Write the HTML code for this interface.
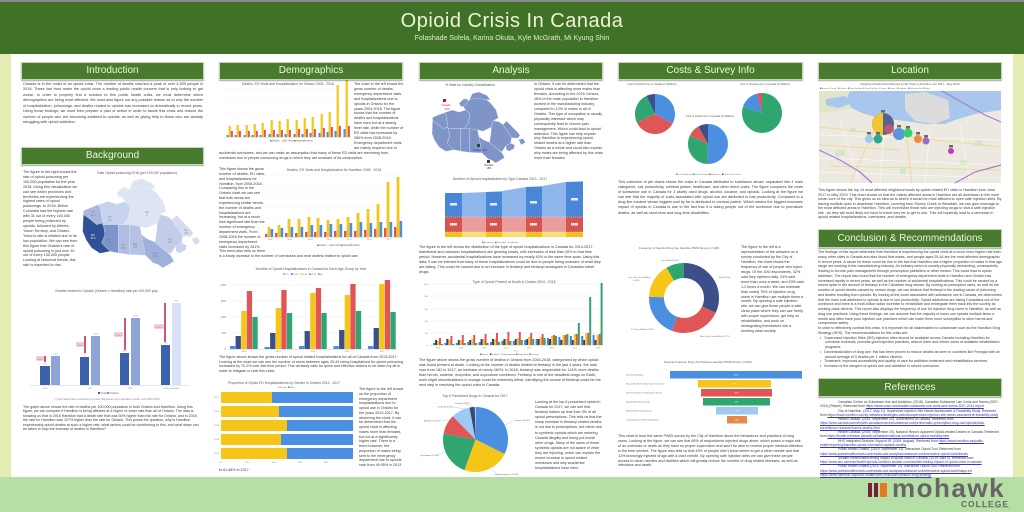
<!DOCTYPE html>
<html><head><meta charset="utf-8">
<style>
*{box-sizing:border-box}
body{margin:0;width:1024px;height:512px;position:relative;overflow:hidden;background:#fff;font-family:"Liberation Sans",sans-serif}
svg{position:absolute;left:0;top:0}
.t{position:absolute;font-size:3.7px;line-height:4.9px;color:#3c3c3c;text-align:left}
.j{text-align:justify}
.fl{float:left}.fr{float:right}
.h{position:absolute;height:18px;background:#487b2d;border:1px solid #c4d6b2;color:#f3f5df;font-size:10px;line-height:16px;text-align:center;box-shadow:0 1px 1px rgba(0,0,0,.35)}
.ct{font-size:3.4px;fill:#5a5a5a;text-anchor:middle}
.a{font-size:2.5px;fill:#808080}
.am{font-size:2.5px;fill:#808080;text-anchor:middle}
.lg{font-size:2.4px;fill:#666}
.ref a{color:#3535c8;text-decoration:underline}
</style></head><body>
<svg width="1024" height="512" viewBox="0 0 1024 512">
<!-- frame -->
<rect x="0" y="0" width="1024" height="512" fill="#fff"/>
<rect x="0" y="54" width="11" height="423" fill="#e4ebb3"/>
<rect x="1013" y="54" width="11" height="423" fill="#e4ebb3"/>
<rect x="0" y="0" width="1024" height="54" fill="#3f7227"/>
<rect x="0" y="0" width="1024" height="2" fill="#8a8a8a"/>
<rect x="0" y="477" width="1024" height="35" fill="#b6dfa6"/>

<!-- ===== COL1: Canada choropleth ===== -->
<text class="ct" x="137" y="174">Rate Opioid poisoning 2018 (per 100,000 population)</text>
<g transform="translate(80,168) scale(0.3333)" stroke="#fff" stroke-width="1.2" stroke-dasharray="2 2">
<polygon fill="#dde4f3" points="135,100 120,80 150,62 165,42 200,50 230,75 250,100 258,130 240,140 232,165 200,180 180,175 130,170 145,150 150,115"/>
<polygon fill="#dde4f3" points="150,60 160,38 185,32 215,45 228,62 205,60 185,55"/>
<polygon fill="#dde4f3" points="110,75 128,58 145,60 135,82 118,88"/>
<polygon fill="#a9b7de" points="10,128 55,110 62,122 68,165 50,170 25,150 10,140"/>
<polygon fill="#2f5197" points="10,140 25,150 50,170 68,165 72,180 75,200 65,225 90,250 60,256 35,240 18,215 8,190"/>
<polygon fill="#c7d2ec" points="55,110 85,100 110,108 135,100 150,115 145,150 130,170 68,170 62,122"/>
<polygon fill="#7f94cb" points="68,170 115,170 115,255 90,250 65,225 75,200 72,180"/>
<polygon fill="#aebde1" points="115,170 148,170 150,260 115,255"/>
<polygon fill="#b5c2e3" points="148,170 180,175 185,200 200,212 196,262 150,260"/>
<polygon fill="#9fb1da" points="185,200 200,212 225,222 240,235 258,250 272,262 282,280 265,290 248,300 235,290 220,285 196,262"/>
<polygon fill="#c3cdea" points="232,165 240,140 262,145 275,155 300,190 308,205 305,225 287,235 272,258 258,250 240,235 225,222 230,190"/>
<polygon fill="#d4dcf0" points="275,155 290,142 312,165 332,185 340,196 332,206 308,205 300,190"/>
<polygon fill="#d4dcf0" points="335,212 352,208 360,222 345,232"/>
<polygon fill="#c9d3ec" points="287,235 305,225 320,232 318,245 300,255 288,250"/>
</g>
<g class="am" style="font-size:2.6px">
<text x="93" y="213" class="am">YT</text><text x="93" y="216" class="am">11.0</text>
<text x="93" y="236" class="am" style="fill:#fff">BC</text><text x="93" y="239" class="am" style="fill:#fff">31.0</text>
<text x="110" y="218" class="am">NT</text><text x="110" y="221" class="am">9.3</text>
<text x="147" y="213" class="am">NU</text><text x="147" y="216" class="am">0</text>
<text x="109" y="240" class="am">AB</text><text x="109" y="243" class="am">17.1</text>
<text x="123" y="246" class="am">SK</text><text x="123" y="249" class="am">10.0</text>
<text x="135" y="245" class="am">MB</text><text x="135" y="248" class="am">9.6</text>
<text x="155" y="254" class="am">ON</text><text x="155" y="257" class="am">10.3</text>
<text x="170" y="240" class="am">QC</text><text x="170" y="243" class="am">5.2</text>
<text x="186" y="231" class="am">NL</text><text x="186" y="234" class="am">2.8</text>
</g>

<!-- ===== COL1: Ontario v Hamilton ===== -->
<text class="ct" x="107" y="292">Deaths related to Opioids (Ontario v Hamilton) rate per 100,000 pop.</text>
<line x1="30" y1="385.5" x2="190" y2="385.5" stroke="#d0d0d0" stroke-width="0.5"/>
<rect x="40" y="366" width="10" height="19" fill="#3c62ae"/>
<rect x="51" y="356" width="9" height="29" fill="#8ea4d7"/>
<rect x="80" y="357" width="9" height="28" fill="#3c62ae"/>
<rect x="91" y="336" width="9" height="49" fill="#8ea4d7"/>
<rect x="120" y="353" width="9" height="32" fill="#3c62ae"/>
<rect x="131" y="318" width="9" height="67" fill="#8ea4d7"/>
<rect x="161" y="345" width="9" height="40" fill="#3c62ae"/>
<rect x="172" y="303" width="9" height="82" fill="#d9e1f2"/>
<g stroke="#b0103a" stroke-width="1.4">
<line x1="45" y1="356" x2="45" y2="362"/><line x1="85" y1="336" x2="85" y2="353"/>
<line x1="125" y1="318" x2="125" y2="350"/><line x1="165" y1="303" x2="165" y2="342"/>
</g>
<g fill="#fff" stroke="#b0103a" stroke-width="0.4">
<rect x="37" y="357" width="6" height="3"/><rect x="77" y="343" width="6" height="3"/>
<rect x="115" y="333" width="7" height="3"/><rect x="155" y="325" width="8" height="3"/>
</g>
<g style="font-size:2px;fill:#b0103a;text-anchor:middle">
<text x="40" y="359.5">50%</text><text x="80" y="345.5">75%</text><text x="118.5" y="335.5">90%</text><text x="159" y="327.5">107%</text>
</g>
<g class="am" style="font-size:2.2px">
<text x="45" y="364.5">8.5</text><text x="55.5" y="354.5">13.0</text><text x="84.5" y="355.5">9</text><text x="95.5" y="334.5">15.8</text>
<text x="124.5" y="351.5">10.3</text><text x="135.5" y="316.5">21.3</text><text x="165.5" y="343.5">11.7</text><text x="176.5" y="301.5">24.1</text>
<text x="45" y="389">2016</text><text x="90" y="389">2017</text><text x="130" y="389">2018</text><text x="171" y="389">2018 (predicted)</text>
</g>
<rect x="98" y="392" width="2" height="2" fill="#3c62ae"/><rect x="107" y="392" width="2" height="2" fill="#8ea4d7"/>
<text class="lg" x="100.5" y="394">Ontario</text><text class="lg" x="109.5" y="394">Hamilton</text>
<text class="ct" x="107" y="400" style="font-size:2.6px;fill:#888">(*) Estimated value considering a Linear Regression from Hamilton's death rows 2015-2018</text>

<!-- ===== COL2: Ontario chart ===== -->
<text class="ct" x="288" y="85">Deaths, ED Visits and Hospitalization for Ontario 2004 - 2018</text>
<g stroke="#e2e2e2" stroke-width="0.4" stroke-dasharray="1 1"><line x1="224" y1="89" x2="351" y2="89"/><line x1="224" y1="101" x2="351" y2="101"/><line x1="224" y1="113" x2="351" y2="113"/><line x1="224" y1="125" x2="351" y2="125"/></g>
<line x1="224" y1="137.3" x2="351" y2="137.3" stroke="#cfcfcf" stroke-width="0.5"/>
<path fill="#4a8fe0" d="M226.5 135h2v2h-2zM234.5 135h2v2h-2zM243.5 135h2v2h-2zM251.5 135h2v2h-2zM259.5 135h2v2h-2zM268.5 134h2v3h-2zM276.5 134h2v3h-2zM284.5 134h2v3h-2zM293.5 134h2v3h-2zM301.5 134h2v3h-2zM309.5 133h2v4h-2zM318.5 133h2v4h-2zM326.5 132h2v5h-2zM334.5 131h2v6h-2zM343.5 129h2v8h-2z"/>
<path fill="#f5c518" d="M228.6 126h2.2v11h-2.2zM236.6 125h2.2v12h-2.2zM245.6 125h2.2v12h-2.2zM253.6 124h2.2v13h-2.2zM261.6 123h2.2v14h-2.2zM270.6 120h2.2v17h-2.2zM278.6 121h2.2v16h-2.2zM286.6 119h2.2v18h-2.2zM295.6 120h2.2v17h-2.2zM303.6 118h2.2v19h-2.2zM311.6 117h2.2v20h-2.2zM320.6 114h2.2v23h-2.2zM328.6 112h2.2v25h-2.2zM336.6 85h2.2v52h-2.2zM345.6 70h2.2v67h-2.2z"/>
<path fill="#e05656" d="M230.9 131h2v6h-2zM238.9 131h2v6h-2zM247.9 131h2v6h-2zM255.9 131h2v6h-2zM263.9 130h2v7h-2zM272.9 130h2v7h-2zM280.9 130h2v7h-2zM288.9 130h2v7h-2zM297.9 129h2v8h-2zM305.9 129h2v8h-2zM313.9 129h2v8h-2zM322.9 128h2v9h-2zM330.9 127h2v10h-2zM338.9 126h2v11h-2zM347.9 126h2v11h-2z"/>
<rect x="270" y="140" width="1.6" height="1.6" fill="#4a8fe0"/><rect x="282" y="140" width="1.6" height="1.6" fill="#f5c518"/><rect x="294" y="140" width="1.6" height="1.6" fill="#e05656"/>
<text class="lg" x="272" y="141.6">Deaths</text><text class="lg" x="284" y="141.6">ED Visits</text><text class="lg" x="296" y="141.6">Hospitalizations</text>

<!-- ===== COL2: Hamilton chart ===== -->
<text class="ct" x="334" y="171">Deaths, ED Visits and Hospitalization for Hamilton 2005 - 2018</text>
<g stroke="#e2e2e2" stroke-width="0.4" stroke-dasharray="1 1"><line x1="263" y1="175" x2="403" y2="175"/><line x1="263" y1="186" x2="403" y2="186"/><line x1="263" y1="197" x2="403" y2="197"/><line x1="263" y1="207" x2="403" y2="207"/><line x1="263" y1="218" x2="403" y2="218"/><line x1="263" y1="228" x2="403" y2="228"/></g>
<line x1="263" y1="237.3" x2="403" y2="237.3" stroke="#cfcfcf" stroke-width="0.5"/>
<path fill="#e05656" d="M265 234h2.4v3h-2.4zM275 233h2.4v4h-2.4zM285 233h2.4v4h-2.4zM295 233h2.4v4h-2.4zM305 232h2.4v5h-2.4zM314 232h2.4v5h-2.4zM324 232h2.4v5h-2.4zM334 231h2.4v6h-2.4zM344 231h2.4v6h-2.4zM354 231h2.4v6h-2.4zM364 230h2.4v7h-2.4zM374 229h2.4v8h-2.4zM384 228h2.4v9h-2.4zM394 227h2.4v10h-2.4z"/>
<path fill="#f5c518" d="M267.6 227h2.8v10h-2.8zM277.6 225h2.8v12h-2.8zM287.6 219h2.8v18h-2.8zM297.6 219h2.8v18h-2.8zM307.6 217h2.8v20h-2.8zM316.6 218h2.8v19h-2.8zM326.6 220h2.8v17h-2.8zM336.6 219h2.8v18h-2.8zM346.6 217h2.8v20h-2.8zM356.6 213h2.8v24h-2.8zM366.6 209h2.8v28h-2.8zM376.6 204h2.8v33h-2.8zM386.6 182h2.8v55h-2.8zM396.6 177h2.8v60h-2.8z"/>
<path fill="#4a8fe0" d="M270.6 229h2.6v8h-2.6zM280.6 228h2.6v9h-2.6zM290.6 227h2.6v10h-2.6zM300.6 227h2.6v10h-2.6zM310.6 225h2.6v12h-2.6zM319.6 225h2.6v12h-2.6zM329.6 224h2.6v13h-2.6zM339.6 224h2.6v13h-2.6zM349.6 223h2.6v14h-2.6zM359.6 222h2.6v15h-2.6zM369.6 223h2.6v14h-2.6zM379.6 222h2.6v15h-2.6zM389.6 222h2.6v15h-2.6zM399.6 221h2.6v16h-2.6z"/>
<g class="am" style="font-size:2.2px"><text x="270" y="240">2005</text><text x="290" y="240">2007</text><text x="310" y="240">2009</text><text x="329" y="240">2011</text><text x="349" y="240">2013</text><text x="369" y="240">2015</text><text x="389" y="240">2017</text></g>
<rect x="317" y="244.5" width="1.6" height="1.6" fill="#e05656"/><rect x="329" y="244.5" width="1.6" height="1.6" fill="#f5c518"/><rect x="341" y="244.5" width="1.6" height="1.6" fill="#4a8fe0"/>
<text class="lg" x="319" y="246">Deaths</text><text class="lg" x="331" y="246">ED Visits</text><text class="lg" x="343" y="246">Hospitalizations</text>

<!-- ===== COL2: Age chart ===== -->
<text class="ct" x="311" y="270">Number of Opioid Hospitalizations in Canada for Each Age Group by Year</text>
<g><rect x="283" y="273.3" width="1.5" height="1.5" fill="#4a8fe0"/><rect x="291" y="273.3" width="1.5" height="1.5" fill="#3d4f8a"/><rect x="300" y="273.3" width="1.5" height="1.5" fill="#f5c518"/><rect x="309" y="273.3" width="1.5" height="1.5" fill="#e05656"/><rect x="318" y="273.3" width="1.5" height="1.5" fill="#2fa66f"/>
<text class="lg" x="285" y="274.8" style="font-size:2px">&lt;15</text><text class="lg" x="293" y="274.8" style="font-size:2px">15-24</text><text class="lg" x="302" y="274.8" style="font-size:2px">25-44</text><text class="lg" x="311" y="274.8" style="font-size:2px">45-64</text><text class="lg" x="320" y="274.8" style="font-size:2px">65+</text></g>
<g stroke="#e6e6e6" stroke-width="0.4"><line x1="228" y1="285" x2="398" y2="285"/><line x1="228" y1="301" x2="398" y2="301"/><line x1="228" y1="317" x2="398" y2="317"/><line x1="228" y1="333" x2="398" y2="333"/></g>
<line x1="228" y1="349.3" x2="398" y2="349.3" stroke="#cfcfcf" stroke-width="0.5"/>
<g class="a" style="text-anchor:end"><text x="226" y="286">2000</text><text x="226" y="302">1500</text><text x="226" y="318">1000</text><text x="226" y="334">500</text><text x="226" y="350">0</text></g>
<g fill="#4a8fe0"><rect x="230" y="346" width="5.3" height="3"/><rect x="264.5" y="347" width="5.3" height="2"/><rect x="299" y="346" width="5.3" height="3"/><rect x="333.5" y="346" width="5.3" height="3"/><rect x="368" y="346" width="5.3" height="3"/></g>
<g fill="#3d4f8a"><rect x="235.6" y="336" width="5.3" height="13"/><rect x="270.1" y="333" width="5.3" height="16"/><rect x="304.6" y="331" width="5.3" height="18"/><rect x="339.1" y="330" width="5.3" height="19"/><rect x="373.6" y="328" width="5.3" height="21"/></g>
<g fill="#f5c518"><rect x="241.2" y="311" width="5.3" height="38"/><rect x="275.7" y="308" width="5.3" height="41"/><rect x="310.2" y="293" width="5.3" height="56"/><rect x="344.7" y="295" width="5.3" height="54"/><rect x="379.2" y="284" width="5.3" height="65"/></g>
<g fill="#e05656"><rect x="246.8" y="291" width="5.3" height="58"/><rect x="281.3" y="290" width="5.3" height="59"/><rect x="315.8" y="288" width="5.3" height="61"/><rect x="350.3" y="284" width="5.3" height="65"/><rect x="384.8" y="280" width="5.3" height="69"/></g>
<g fill="#2fa66f"><rect x="252.4" y="317" width="5.3" height="32"/><rect x="286.9" y="313" width="5.3" height="36"/><rect x="321.4" y="313" width="5.3" height="36"/><rect x="355.9" y="311" width="5.3" height="38"/><rect x="390.4" y="312" width="5.3" height="37"/></g>
<g class="am" style="font-size:2.2px"><text x="244" y="352">2013</text><text x="278" y="352">2014</text><text x="313" y="352">2015</text><text x="347" y="352">2016</text><text x="382" y="352">2017</text></g>

<!-- ===== COL2: gender ===== -->
<text class="ct" x="284" y="384">Proportion of Opioid ED Hospitalizations by Gender in Ontario 2013 - 2017</text>
<rect x="278" y="386.5" width="1.5" height="1.5" fill="#f5c518"/><rect x="288" y="386.5" width="1.5" height="1.5" fill="#4a8fe0"/>
<text class="lg" x="280" y="388" style="font-size:2px">Female</text><text class="lg" x="290" y="388" style="font-size:2px">Male</text>
<g fill="#4a8fe0"><rect x="221" y="392" width="132" height="11"/><rect x="221" y="406" width="132" height="11"/><rect x="221" y="420" width="132" height="11"/><rect x="221" y="434" width="132" height="11"/><rect x="221" y="448" width="132" height="11"/></g>
<g fill="#f5c518"><rect x="221" y="392" width="51" height="11"/><rect x="221" y="406" width="58" height="11"/><rect x="221" y="420" width="66" height="11"/><rect x="221" y="434" width="60" height="11"/><rect x="221" y="448" width="66" height="11"/></g>
<g class="a" style="text-anchor:end;font-size:2.2px"><text x="219" y="398">2017</text><text x="219" y="412">2016</text><text x="219" y="426">2015</text><text x="219" y="440">2014</text><text x="219" y="454">2013</text></g>
<g class="am" style="font-size:2.2px"><text x="221" y="463">0%</text><text x="247" y="463">20%</text><text x="274" y="463">40%</text><text x="300" y="463">60%</text><text x="326" y="463">80%</text></g>

<!-- ===== COL3: Analysis silhouette ===== -->
<text class="ct" x="470" y="86">% Male by Industry Classification</text>
<g transform="translate(429.9,83.5) scale(0.265)" fill="#7f95c7" stroke="#e8ecf6" stroke-width="1.2">
<polygon points="135,100 120,80 150,62 165,42 200,50 230,75 250,100 258,130 240,140 232,165 200,180 180,175 130,170 145,150 150,115"/>
<polygon points="150,60 160,38 185,32 215,45 228,62 205,60 185,55"/>
<polygon points="110,75 128,58 145,60 135,82 118,88"/>
<polygon points="10,128 55,110 62,122 68,165 50,170 25,150 10,140"/>
<polygon points="10,140 25,150 50,170 68,165 72,180 75,200 65,225 90,250 60,256 35,240 18,215 8,190"/>
<polygon points="55,110 85,100 110,108 135,100 150,115 145,150 130,170 68,170 62,122"/>
<polygon points="68,170 115,170 115,255 90,250 65,225 75,200 72,180"/>
<polygon points="115,170 148,170 150,260 115,255"/>
<polygon points="148,170 180,175 185,200 200,212 196,262 150,260"/>
<polygon points="185,200 200,212 225,222 240,235 258,250 272,262 282,280 265,290 248,300 235,290 220,285 196,262"/>
<polygon points="232,165 240,140 262,145 275,155 300,190 308,205 305,225 287,235 272,258 258,250 240,235 225,222 230,190"/>
<polygon points="275,155 290,142 312,165 332,185 340,196 332,206 308,205 300,190"/>
<polygon points="335,212 352,208 360,222 345,232"/>
<polygon points="287,235 305,225 320,232 318,245 300,255 288,250"/>
</g>
<rect x="443" y="99" width="3" height="3" fill="#c0102a"/>
<text x="446" y="106" style="font-size:2.6px;fill:#d01c2c;text-anchor:middle">Canada</text><text x="447" y="110" style="font-size:2.6px;fill:#d01c2c;text-anchor:middle">22%</text>
<rect x="477" y="144" width="3" height="3" fill="#2d4a2a"/>
<text x="480" y="151" style="font-size:2.6px;fill:#1f3f9a;text-anchor:middle">Ontario 54%</text>
<rect x="487" y="160" width="3" height="3" fill="#2d4a2a"/>
<text x="489" y="166" style="font-size:2.4px;fill:#333;text-anchor:middle">Hamilton</text><text x="489" y="169" style="font-size:2.4px;fill:#333;text-anchor:middle">18%</text>

<!-- ===== COL3: stacked area ===== -->
<text class="ct" x="500" y="180">Number of Opioid Hospitalization by Type Canada 2013 - 2017</text>
<polygon fill="#8fb6ea" points="445,193 462,193 486,192 502,191 526,187 542,186 566,182 583,181 583,217 445,217"/>
<rect x="445" y="217" width="138" height="15" fill="#eb9d9b"/>
<rect x="445" y="232" width="138" height="5" fill="#f8df72"/>
<g fill="#4a86d8"><rect x="445" y="193" width="17" height="24"/><rect x="486" y="192" width="16" height="25"/><rect x="526" y="187" width="16" height="30"/><rect x="566" y="182" width="17" height="35"/></g>
<g fill="#d9534f"><rect x="445" y="217" width="17" height="15"/><rect x="486" y="217" width="16" height="15"/><rect x="526" y="217" width="16" height="15"/><rect x="566" y="217" width="17" height="15"/></g>
<g fill="#f2c21b"><rect x="445" y="232" width="17" height="5"/><rect x="486" y="232" width="16" height="5"/><rect x="526" y="232" width="16" height="5"/><rect x="566" y="232" width="17" height="5"/></g>
<g stroke="#fff" stroke-width="0.4" stroke-dasharray="1 1" fill="none"><line x1="445" y1="217" x2="583" y2="217"/><line x1="445" y1="232" x2="583" y2="232"/></g>
<g fill="#fff" opacity="0.85"><rect x="450" y="203" width="7" height="2.5"/><rect x="490" y="203" width="7" height="2.5"/><rect x="530" y="201" width="7" height="2.5"/><rect x="571" y="198" width="7" height="2.5"/><rect x="450" y="223" width="7" height="2.5"/><rect x="490" y="223" width="7" height="2.5"/><rect x="530" y="223" width="7" height="2.5"/><rect x="571" y="223" width="7" height="2.5"/></g>
<rect x="482" y="241.7" width="1.5" height="1.5" fill="#4a86d8"/><rect x="495" y="241.7" width="1.5" height="1.5" fill="#d9534f"/><rect x="508" y="241.7" width="1.5" height="1.5" fill="#f2c21b"/>
<text class="lg" x="484" y="243.2" style="font-size:2px">Accidental</text><text class="lg" x="497" y="243.2" style="font-size:2px">Intentional</text><text class="lg" x="510" y="243.2" style="font-size:2px">Unknown</text>

<!-- ===== COL3: type of opioid ===== -->
<text class="ct" x="514" y="283">Type of Opioid Present at Death in Ontario 2004 - 2018</text>
<g stroke="#e6e6e6" stroke-width="0.4"><line x1="430" y1="284" x2="603" y2="284"/><line x1="430" y1="296" x2="603" y2="296"/><line x1="430" y1="309" x2="603" y2="309"/><line x1="430" y1="321" x2="603" y2="321"/><line x1="430" y1="333" x2="603" y2="333"/></g>
<line x1="430" y1="345.3" x2="603" y2="345.3" stroke="#cfcfcf" stroke-width="0.5"/>
<g class="a" style="text-anchor:end;font-size:2px"><text x="428" y="285">1000</text><text x="428" y="297">800</text><text x="428" y="310">600</text><text x="428" y="322">400</text><text x="428" y="334">200</text><text x="428" y="346">0</text></g>
<path fill="#4a7fd4" d="M433 343h2v2h-2zM444.4 343h2v2h-2zM455.8 343h2v2h-2zM467.2 342h2v3h-2zM478.6 342h2v3h-2zM490 342h2v3h-2zM501.4 341h2v4h-2zM512.8 341h2v4h-2zM524.2 340h2v5h-2zM535.6 339h2v6h-2zM547 338h2v7h-2zM558.4 337h2v8h-2zM569.8 336h2v9h-2zM581.2 336h2v9h-2zM592.6 335h2v10h-2z"/>
<path fill="#2d3f7c" d="M435 340h2v5h-2zM446.4 339h2v6h-2zM457.8 340h2v5h-2zM469.2 340h2v5h-2zM480.6 339h2v6h-2zM492 339h2v6h-2zM503.4 339h2v6h-2zM514.8 339h2v6h-2zM526.2 339h2v6h-2zM537.6 339h2v6h-2zM549 339h2v6h-2zM560.4 340h2v5h-2zM571.8 340h2v5h-2zM583.2 340h2v5h-2zM594.6 340h2v5h-2z"/>
<path fill="#f5c518" d="M437 341h2v4h-2zM448.4 340h2v5h-2zM459.8 340h2v5h-2zM471.2 339h2v6h-2zM482.6 339h2v6h-2zM494 339h2v6h-2zM505.4 339h2v6h-2zM516.8 338h2v7h-2zM528.2 337h2v8h-2zM539.6 337h2v8h-2zM551 336h2v9h-2zM562.4 335h2v10h-2zM573.8 334h2v11h-2zM585.2 333h2v12h-2zM596.6 335h2v10h-2z"/>
<path fill="#e05656" d="M439 338h2v7h-2zM450.4 336h2v9h-2zM461.8 335h2v10h-2zM473.2 335h2v10h-2zM484.6 334h2v11h-2zM496 333h2v12h-2zM507.4 332h2v13h-2zM518.8 332h2v13h-2zM530.2 333h2v12h-2zM541.6 334h2v11h-2zM553 335h2v10h-2zM564.4 335h2v10h-2zM575.8 334h2v11h-2zM587.2 333h2v12h-2zM598.6 334h2v11h-2z"/>
<path fill="#2fa66f" d="M441 344h2v1h-2zM452.4 344h2v1h-2zM463.8 343h2v2h-2zM475.2 343h2v2h-2zM486.6 343h2v2h-2zM498 342h2v3h-2zM509.4 341h2v4h-2zM520.8 340h2v5h-2zM532.2 339h2v6h-2zM543.6 338h2v7h-2zM555 336h2v9h-2zM566.4 334h2v11h-2zM577.8 323h2v22h-2zM589.2 297h2v48h-2zM600.6 283h2v62h-2z"/>
<g class="am" style="font-size:2px"><text x="438" y="348.5">2004</text><text x="461" y="348.5">2006</text><text x="484" y="348.5">2008</text><text x="506" y="348.5">2010</text><text x="529" y="348.5">2012</text><text x="552" y="348.5">2014</text><text x="575" y="348.5">2016</text><text x="598" y="348.5">2018</text></g>
<text class="am" x="516" y="351.5" style="font-size:2px">Year</text>
<g><rect x="480" y="353.5" width="1.5" height="1.5" fill="#4a7fd4"/><rect x="490" y="353.5" width="1.5" height="1.5" fill="#2d3f7c"/><rect x="501" y="353.5" width="1.5" height="1.5" fill="#f5c518"/><rect x="516" y="353.5" width="1.5" height="1.5" fill="#e05656"/><rect x="529" y="353.5" width="1.5" height="1.5" fill="#2fa66f"/>
<text class="lg" x="482" y="355" style="font-size:2px">Heroin</text><text class="lg" x="492" y="355" style="font-size:2px">Codeine</text><text class="lg" x="503" y="355" style="font-size:2px">Hydromorphone</text><text class="lg" x="518" y="355" style="font-size:2px">Oxycodone</text><text class="lg" x="531" y="355" style="font-size:2px">Fentanyl</text></g>

<!-- ===== COL3: top 6 pie ===== -->
<text class="ct" x="475" y="397">Top 6 Prescribed Drugs in Canada for 2017</text>
<g transform="rotate(-90 475.5 439.5)" fill="none" stroke-width="32.5">
<circle cx="475.5" cy="439.5" r="16.25" pathLength="100" stroke="#4a8fe0" stroke-dasharray="32.5 100"/>
<circle cx="475.5" cy="439.5" r="16.25" pathLength="100" stroke="#f5c518" stroke-dasharray="23.3 100" stroke-dashoffset="-32.5"/>
<circle cx="475.5" cy="439.5" r="16.25" pathLength="100" stroke="#2fa66f" stroke-dasharray="22.5 100" stroke-dashoffset="-55.8"/>
<circle cx="475.5" cy="439.5" r="16.25" pathLength="100" stroke="#e05656" stroke-dasharray="9.8 100" stroke-dashoffset="-78.3"/>
<circle cx="475.5" cy="439.5" r="16.25" pathLength="100" stroke="#9ccaf2" stroke-dasharray="9.4 100" stroke-dashoffset="-88.1"/>
<circle cx="475.5" cy="439.5" r="16.25" pathLength="100" stroke="#34497f" stroke-dasharray="2.6 100" stroke-dashoffset="-97.5"/>
</g>
<g stroke="#aaa" stroke-width="0.3" fill="none"><line x1="505" y1="425" x2="513" y2="421"/><line x1="492" y1="470" x2="496" y2="473"/><line x1="446" y1="452" x2="436" y2="455"/><line x1="453" y1="420" x2="440" y2="421"/><line x1="466" y1="409" x2="452" y2="407"/><line x1="474" y1="407" x2="465" y2="404"/></g>
<g class="lg" style="font-size:2.2px"><text x="514" y="421">Codeine 32.35%</text><text x="495" y="475">Hydromorphone 23.33%</text><text x="420" y="456">Oxycodone 22.54%</text><text x="424" y="421.5">Morphine 9.75%</text><text x="437" y="407.5">Tramadol 9.44%</text><text x="455" y="404">Fentanyl 2.97%</text></g>

<!-- ===== COL4: cost pies ===== -->
<text class="ct" x="652" y="85" style="font-size:2.6px">Cost of Alcohol Use in Canada (in Millions)</text>
<text class="ct" x="765" y="85" style="font-size:2.6px">Cost of Cocaine Use in Canada (in Millions)</text>
<text class="ct" x="710" y="117" style="font-size:2.6px">Cost of Opioid Use in Canada (in Millions)</text>
<g transform="rotate(-90 655 114)" fill="none" stroke-width="20">
<circle cx="655" cy="114" r="10" pathLength="100" stroke="#4a8fe0" stroke-dasharray="33 100"/>
<circle cx="655" cy="114" r="10" pathLength="100" stroke="#e05656" stroke-dasharray="35 100" stroke-dashoffset="-33"/>
<circle cx="655" cy="114" r="10" pathLength="100" stroke="#2fa66f" stroke-dasharray="25 100" stroke-dashoffset="-68"/>
<circle cx="655" cy="114" r="10" pathLength="100" stroke="#3d4f8a" stroke-dasharray="7 100" stroke-dashoffset="-93"/>
</g>
<g transform="rotate(-90 762 113)" fill="none" stroke-width="20">
<circle cx="762" cy="113" r="10" pathLength="100" stroke="#2fa66f" stroke-dasharray="80 100"/>
<circle cx="762" cy="113" r="10" pathLength="100" stroke="#4a8fe0" stroke-dasharray="16 100" stroke-dashoffset="-80"/>
<circle cx="762" cy="113" r="10" pathLength="100" stroke="#e05656" stroke-dasharray="4 100" stroke-dashoffset="-96"/>
</g>
<g transform="rotate(-90 708 144)" fill="none" stroke-width="20">
<circle cx="708" cy="144" r="10" pathLength="100" stroke="#4a8fe0" stroke-dasharray="51 100"/>
<circle cx="708" cy="144" r="10" pathLength="100" stroke="#2fa66f" stroke-dasharray="31 100" stroke-dashoffset="-51"/>
<circle cx="708" cy="144" r="10" pathLength="100" stroke="#e05656" stroke-dasharray="10 100" stroke-dashoffset="-82"/>
<circle cx="708" cy="144" r="10" pathLength="100" stroke="#3d4f8a" stroke-dasharray="8 100" stroke-dashoffset="-92"/>
</g>
<g><rect x="676" y="173.5" width="1.5" height="1.5" fill="#4a8fe0"/><rect x="693" y="173.5" width="1.5" height="1.5" fill="#2fa66f"/><rect x="709" y="173.5" width="1.5" height="1.5" fill="#e05656"/><rect x="722" y="173.5" width="1.5" height="1.5" fill="#3d4f8a"/>
<text class="lg" x="678" y="175" style="font-size:2px">Lost Productivity</text><text class="lg" x="695" y="175" style="font-size:2px">Criminal Justice</text><text class="lg" x="711" y="175" style="font-size:2px">Healthcare</text><text class="lg" x="724" y="175" style="font-size:2px">Other Direct Costs</text></g>

<!-- ===== COL4: donut ===== -->
<text class="ct" x="679" y="249" style="font-size:2.8px">Frequency of Injection Drug Use Hamilton PWID Survey (n=106)</text>
<g transform="rotate(-90 684 298)" fill="none" stroke-width="15">
<circle cx="684" cy="298" r="27.5" pathLength="100" stroke="#3d4f8a" stroke-dasharray="32 100"/>
<circle cx="684" cy="298" r="27.5" pathLength="100" stroke="#e05656" stroke-dasharray="23.6 100" stroke-dashoffset="-32"/>
<circle cx="684" cy="298" r="27.5" pathLength="100" stroke="#4a8fe0" stroke-dasharray="20 100" stroke-dashoffset="-55.6"/>
<circle cx="684" cy="298" r="27.5" pathLength="100" stroke="#f5c518" stroke-dasharray="16.1 100" stroke-dashoffset="-75.6"/>
<circle cx="684" cy="298" r="27.5" pathLength="100" stroke="#2fa66f" stroke-dasharray="8.3 100" stroke-dashoffset="-91.7"/>
</g>
<g class="lg" style="font-size:2px"><text x="719" y="278">Daily 31.64%</text><text x="661" y="261">Once A Week 8.91%</text><text x="628" y="278">Less Than Once A Month</text><text x="633" y="281">14.85%</text><text x="631" y="330">1-2 Times A Month 19.8%</text><text x="700" y="337">More Than Once A Week 22.77%</text></g>

<!-- ===== COL4: funnel ===== -->
<text class="ct" x="708" y="363" style="font-size:2.8px">Reported Injection Drug Use Practices Hamilton PWID Survey (n=106)</text>
<rect x="670" y="371" width="132" height="7.5" fill="#4a8fe0"/>
<rect x="698" y="380" width="73" height="7.5" fill="#f5c518"/>
<rect x="701" y="389" width="71" height="7.5" fill="#e05656"/>
<rect x="703" y="398" width="67" height="7.5" fill="#2fa66f"/>
<rect x="716" y="407" width="42" height="7.5" fill="#9ccaf2"/>
<rect x="727" y="416" width="20" height="7.5" fill="#e8884a"/>
<g class="lg" style="font-size:1.9px"><text x="626" y="375.5">Injected Drugs Alone</text><text x="626" y="384.5">Reused Needles For More Than One Injection</text><text x="626" y="393.5">Didn't Know Where To Get A Clean Needle</text><text x="626" y="402.5">Needed Help Injecting Drugs</text><text x="626" y="411.5">Needed Help Preparing Drugs</text><text x="626" y="420.5">Knowingly Injected With Used Needles</text></g>
<g style="font-size:2px;fill:#fff;text-anchor:middle"><text x="736" y="375.5">89%</text><text x="734.5" y="384.5">49%</text><text x="736.5" y="393.5">45%</text><text x="736.5" y="402.5">44%</text><text x="737" y="411.5">27%</text><text x="737" y="420.5">13%</text></g>

<!-- ===== COL5: location map ===== -->
<text class="ct" x="910" y="85" style="font-size:2.9px">Neighbourhoods Most Affected by ED Visits in Hamilton Jun 2017 - May 2019</text>
<g style="font-size:1.6px;fill:#666">
<rect x="820" y="87.6" width="1.3" height="1.3" fill="#3d4f8a"/><text x="822" y="88.9">Beasley</text>
<rect x="829" y="87.6" width="1.3" height="1.3" fill="#f5c518"/><text x="831" y="88.9">Central</text>
<rect x="838" y="87.6" width="1.3" height="1.3" fill="#2fa88a"/><text x="840" y="88.9">Corktown</text>
<rect x="848" y="87.6" width="1.3" height="1.3" fill="#e05656"/><text x="850" y="88.9">Crown Point East</text>
<rect x="863" y="87.6" width="1.3" height="1.3" fill="#f28a3c"/><text x="865" y="88.9">Crown Point West</text>
<rect x="879" y="87.6" width="1.3" height="1.3" fill="#9fc9ee"/><text x="881" y="88.9">Durand</text>
<rect x="888" y="87.6" width="1.3" height="1.3" fill="#4a8fe0"/><text x="890" y="88.9">Gibson</text>
<rect x="897" y="87.6" width="1.3" height="1.3" fill="#9d6bbd"/><text x="899" y="88.9">Landsdale</text>
<rect x="908" y="87.6" width="1.3" height="1.3" fill="#c23bb5"/><text x="910" y="88.9">McQuesten West</text>
<rect x="923" y="87.6" width="1.3" height="1.3" fill="#35d06a"/><text x="925" y="88.9">Stipley</text>
</g>
<rect x="819" y="91" width="182" height="92" fill="#ece9e1"/>
<g fill="#d5e6c3"><rect x="835" y="150" width="10" height="6"/><rect x="960" y="160" width="8" height="5"/><rect x="900" y="168" width="6" height="7"/><rect x="850" y="128" width="6" height="4"/><rect x="975" y="140" width="7" height="6"/></g>
<polygon fill="#dfe6cc" points="819,91 852,91 847,100 853,108 840,111 819,113"/>
<polygon fill="#a9c7ec" points="850,91 1001,91 1001,110 975,114 955,120 945,124 925,124 905,121 890,119 875,117 862,113 852,108 846,100"/>
<polygon fill="#a9c7ec" points="826,99 845,96 850,104 838,108 826,105"/>
<polygon fill="#dcdcdc" points="905,94 925,92 948,100 950,118 935,124 915,121 905,110"/>
<g stroke="#fff" stroke-width="0.5" fill="none"><line x1="819" y1="135" x2="1001" y2="140"/><line x1="819" y1="158" x2="1001" y2="165"/><line x1="840" y1="120" x2="860" y2="183"/><line x1="930" y1="128" x2="925" y2="183"/><line x1="960" y1="125" x2="970" y2="183"/><line x1="819" y1="172" x2="1001" y2="178"/><line x1="885" y1="120" x2="880" y2="183"/></g>
<g stroke="#f3d67a" stroke-width="0.8" fill="none"><line x1="819" y1="127" x2="1001" y2="147"/><line x1="850" y1="183" x2="880" y2="118"/><line x1="830" y1="166" x2="1001" y2="170"/><line x1="905" y1="124" x2="912" y2="183"/><line x1="819" y1="145" x2="900" y2="150"/></g>
<g stroke="#a47fd6" stroke-width="1.2" fill="none"><polyline points="942,91 965,104 985,115 1001,122"/><polyline points="819,150 840,160 860,172 872,183"/><polyline points="955,183 975,172 1001,165"/></g>
<circle cx="883" cy="124" r="11" fill="#56638f"/>
<path d="M883 113A11 11 0 0 0 883 135Z" fill="#f0c531"/>
<circle cx="889" cy="129" r="5" fill="#b85a78" opacity="0.9"/>
<circle cx="899" cy="134" r="6" fill="#5b94d9"/>
<circle cx="908" cy="133" r="4.5" fill="#35d06a"/>
<circle cx="869" cy="139" r="4" fill="#9fc9ee"/>
<circle cx="878" cy="139" r="4.5" fill="#2fa88a"/>
<circle cx="918" cy="139" r="4" fill="#f28a3c"/>
<circle cx="926" cy="141" r="3.5" fill="#9d6bbd"/>
<circle cx="951" cy="151" r="3" fill="#c23bb5"/>
<g fill="#6a6a6a"><rect x="881" y="110" width="4" height="2.5"/><rect x="897" y="125" width="4" height="2.5"/><rect x="906" y="126" width="4" height="2.5"/><rect x="867" y="132" width="4" height="2.5"/><rect x="876" y="132" width="4" height="2.5"/><rect x="916" y="132" width="4" height="2.5"/><rect x="924" y="135" width="4" height="2.5"/><rect x="949" y="145" width="4" height="2.5"/></g>

<!-- ===== Mohawk logo ===== -->
<rect x="868" y="483" width="4" height="14" fill="#7a1f3d"/>
<rect x="874" y="483" width="4" height="14" fill="#7a1f3d"/>
<rect x="880" y="483" width="7" height="14" rx="1" fill="#e07b24"/>
<text x="892" y="497" style="font-size:26px;font-weight:bold;fill:#666;letter-spacing:1.5px">mohawk</text>
<text x="1009" y="507" style="font-size:8.5px;font-weight:bold;fill:#666;letter-spacing:1px;text-anchor:end">COLLEGE</text>
</svg>

<!-- HEADER -->
<div style="position:absolute;left:0;top:9px;width:1024px;text-align:center;font-size:20px;line-height:24px;letter-spacing:0.5px;color:#eef2d6">Opioid Crisis In Canada</div>
<div style="position:absolute;left:0;top:34px;width:1024px;text-align:center;font-size:7px;line-height:9px;color:#e4ead0">Folashade Sofela, Karina Okuta, Kyle McGrath, Mi Kyung Shin</div>

<!-- SECTION HEADERS -->
<div class="h" style="left:21px;top:62px;width:183px">Introduction</div>
<div class="h" style="left:219px;top:62px;width:184px">Demographics</div>
<div class="h" style="left:419px;top:62px;width:184px">Analysis</div>
<div class="h" style="left:618px;top:62px;width:185px">Costs &amp; Survey Info</div>
<div class="h" style="left:818px;top:62px;width:184px">Location</div>
<div class="h" style="left:21px;top:147px;width:183px">Background</div>
<div class="h" style="left:818px;top:229px;width:184px;height:19px;line-height:17px">Conclusion &amp; Recommendations</div>
<div class="h" style="left:818px;top:378px;width:184px;height:19px;line-height:17px">References</div>

<!-- TEXT -->
<div class="t j" style="left:23px;top:82px;width:180px;line-height:5.45px;font-size:3.8px">Canada is in the midst of an opioid crisis. The number of deaths reached a peak of over 4,500 people in 2018. These lost lives make the opioid crisis a leading public health concern that is only looking to get worse. In order to properly find a solution to this public health crisis, we must determine which demographics are being most affected. We must also figure out any possible reason as to why the number of hospitalization, poisonings, and deaths related to opioids has increased so dramatically in recent years. Using those findings, we must then prepare a plan of action in order to tackle this crisis and reduce the number of people who are becoming addicted to opioids, as well as giving help to those who are already struggling with opioid addiction.</div>

<div class="t" style="left:23px;top:170px;width:56px;line-height:4.9px;font-size:3.75px">The figure to the right shows the rate of opioid poisoning per 100,000 population for the year 2018. Using this visualization we can see which provinces and territories are experiencing the highest rates of opioid poisonings. In 2018, British Columbia had the highest rate with 31 out of every 100,000 people being poisoned by opioids, followed by Alberta, Yukon Territory, and Ontario. Yukon's rate is inflated due to its low population. We can see from this figure that Ontario's rate of opioid poisoning in just over 10 out of every 100,000 people. Looking at historical trends, this rate is expected to rise.</div>

<div class="t" style="left:23px;top:405px;width:176px;line-height:4.4px;font-size:3.6px">The graph above shows the rate of deaths per 100,000 population in both Ontario and Hamilton. Using this figure, we can compare if Hamilton is being affected at a higher or lower rate than all of Ontario. The data is showing us that in 2016 Hamilton had a death rate that was 50% higher than the rate for Ontario, and in 2018 the rate for Hamilton was 107% higher than the rate for Ontario. This poses the question, why is Hamilton experiencing opioid deaths at such a higher rate, what factors could be contributing to this, and what steps can be taken to stop the increase of deaths in Hamilton?</div>

<div class="t" style="left:219px;top:82px;width:185px;line-height:4.9px"><span class="fl" style="width:135px;height:68px"></span>The chart to the left shows the gross number of deaths, emergency department visits, and hospitalizations due to opioids in Ontario for the years 2004-2018. The figure shows that the number of deaths and hospitalizations have risen but at a steady, level rate, while the number of ED visits has increased by 280% from 2008-2018. Emergency department visits are mainly required due to accidental overdoses, and we can make an assumption that many of these ED visits are stemming from overdoses due to people consuming drugs in which they are unaware of its composition.</div>

<div class="t" style="left:219px;top:167px;width:185px;line-height:4.85px"><span class="fr" style="width:138px;height:85px"></span>This figure shows the gross number of deaths, ED visits, and hospitalizations for Hamilton, from 2005-2018. Comparing this to the Ontario chart we can see that both areas are experiencing similar trends, the number of deaths and hospitalizations are increasing, but at a much less significant rate than the number of emergency department visits. From 2008-2018 the number of emergency department visits increased by 281%. This trend also tells us there is a sharp increase in the number of overdoses and near deaths related to opioid use.</div>

<div class="t" style="left:219px;top:355px;width:184px;line-height:4.6px">The figure above shows the gross number of opioid related hospitalizations for all of Canada from 2013-2017. Looking at the chart we can see the number of users between ages 25-44 being hospitalized for opioid poisoning increased by 70.2% over this time period. This certainly calls for quick and effective actions to be taken by all in order to mitigate or curb this crisis.</div>

<div class="t" style="left:219px;top:387px;width:185px;line-height:4.75px"><span class="fl" style="width:140px;height:78px"></span>The figure to the left shows us the proportion of emergency department hospitalizations due to opioid use in Ontario for the years 2013-2017. By observing the chart, it can be determined that the opioid crisis is affecting males more than females, but not at a significantly higher rate. There is a trend however, the proportion of males being sent to the emergency department due to opioids rose from 49.95% in 2013 to 61.58% in 2017.</div>

<div class="t" style="left:534px;top:82px;width:69px;line-height:4.95px">In Ontario, it can be determined that the opioid crisis is affecting more males than females. According to the 2016 Census, 18% of the male population in Hamilton worked in the manufacturing industry, compared to 12% of males in all of Ontario. This type of occupation is usually physically intensive which may consequently lead to chronic pain management. Which could lead to opioid addiction. This figure can help explain why Hamilton is experiencing opioid related deaths at a higher rate than Ontario as a whole and could also explain why males are being affected by this crisis more than females.</div>

<div class="t" style="left:419px;top:245px;width:184px;line-height:5.1px;font-size:3.75px">The figure to the left shows the distribution of the type of opioid hospitalizations in Canada for 2014-2017. Intentional and unknown hospitalizations are growing slowly, with increases of less than 20% in that time period. However, accidental hospitalizations have increased by nearly 40% in the same time span. Using this data, it can be inferred that many of these hospitalizations could be due to people being unaware of what they are taking. This could be caused due to an increase in fentanyl and fentanyl analogues in Canadian street drugs.</div>

<div class="t" style="left:419px;top:358px;width:184px;line-height:5.1px;font-size:3.75px">The figure above shows the gross number of deaths in Ontario from 2004-2018, categorized by which opioid was found present at death. Looking at the number of deaths related to fentanyl in the last 4 years, the total rose from 181 to 1017, an increase of nearly 462%. In 2018, fentanyl was responsible for 141% more deaths than heroin, codeine, morphine, and oxycodone combined. Fentanyl is one of the deadliest drugs on Earth, even slight miscalculations in dosage could be extremely lethal. Identifying the source of fentanyl could be the next step in resolving the opioid crisis in Canada.</div>

<div class="t" style="left:535px;top:400px;width:68px;line-height:5.1px">Looking at the top 6 prescribed opioid in Canada for 2017, we can see that fentanyl makes up less than 3% of all opioid prescriptions. This tells us that the sharp increase in fentanyl related deaths is not due to prescriptions, but rather due to synthetic opioids which are entering Canada illegally and being put inside other drugs. Many of the users of these synthetic opioids are not aware of what they are injecting, which can explain the recent increase in opioid related overdoses and why accidental hospitalizations have risen.</div>

<div class="t j" style="left:618px;top:180px;width:185px;line-height:5.1px;font-size:3.75px">This collection of pie charts shows the costs in Canada attributed to substance abuse, separated into 4 main categories, lost productivity, criminal justice, healthcare, and other direct costs. The figure compares the costs of substance use in Canada for 3 widely used drugs, alcohol, cocaine, and opioids. Looking at the figure we can see that the majority of costs associated with opioid use are attributed to lost productivity. Compared to a drug like cocaine whose biggest cost by far is attributed to criminal justice. Which means the biggest economic impact of opioids in Canada is due to the fact that it is taking people out of the workforce due to premature deaths, as well as short-term and long-term disabilities.</div>

<div class="t" style="left:741px;top:245px;width:63px;line-height:4.95px">The figure to the left is a representation of the answers on a survey conducted by the City of Hamilton, the chart shows the frequency of use of people who inject drugs. Of the 106 respondents, 32% said they injected daily, 23% said more than once a week, and 20% said 1-2 times a month. We can estimate than nearly 75% of injection drug users in Hamilton use multiple times a month. By opening a safe injection site, we can give these people a safe clean place where they can use freely, with proper supervision, get help on rehabilitation, and work on reintegrating themselves into a working class society.</div>

<div class="t" style="left:618px;top:434px;width:185px;line-height:4.9px">This chart is from the same PWID survey by the City of Hamilton about the behaviours and practices of drug users. Looking at the figure, we can see that 89% of respondents injected drugs alone, which poses a major risk of an overdose or death as they have no proper supervision and won't be able to receive proper medical attention in the time needed. The figure also tells us that 45% of people didn't know where to get a clean needle and that 13% knowingly injected drugs with a used needle. By opening safe injection sites we can give these people access to clean needles and facilities which will greatly reduce the number of drug related illnesses, as well as infections and death.</div>

<div class="t" style="left:818px;top:188px;width:184px;line-height:4.55px">This figure shows the top 10 most affected neighbourhoods by opioid related ED visits in Hamilton from June 2017 to May 2019. This chart shows us that the mainly affected areas in Hamilton are all downtown in the more urban core of the city. This gives us an idea as to where it would be most affected to open safe injection sites. By having multiple open in downtown Hamilton, covering from Stoney Creek to Westdale, we can give coverage to the most affected areas in Hamilton. This will incentivize those who are injecting drugs to visit a safe injection site , as they will most likely not have to travel very far to get to one. This will hopefully lead to a decrease in opioid related hospitalizations, overdoses, and deaths.</div>

<div class="t" style="left:818px;top:250px;width:184px;line-height:4.75px;font-size:3.6px">The findings of this report determine that Hamilton is experiencing the opioid crisis at a much more higher rate than many other cities in Canada and also found that males, and people ages 25-44 are the most affected demographic in recent years. A cause for these could be due to the fact that Hamilton has a higher proportion of males in that age range are working in the manufacturing industry. An industry which is usually physically demanding, consequently leading to chronic pain management through prescription painkillers or other means. This could lead to opioid addiction. The report also found that the number of emergency department visits in Hamilton and Ontario has increased rapidly in recent years, as well as the number of accidental hospitalizations. This could be caused by a recent spike in the amount of fentanyl in the Canadian drug stream. By looking at prescription rates, as well as the number of opioid deaths caused by certain drugs, we can deduce that fentanyl is the leading cause of poisoning and deaths resulting from opioids. By looking at the costs associated with substance use in Canada, we determined that the main cost attributed to opioids is due to lost productivity. Opioid addictions are taking Canadians out of the workforce and there is a multi-billion dollar incentive to rehabilitate and reintegrate them back into the society as working class citizens. This report also displays the frequency of use for injection drug users in Hamilton, as well as drug use practices. Using these findings, we can assume that the majority of users use opioids multiple times a month and often have poor injection use practices which can make them more susceptible to other harms and compromise safety.<br>In order to effectively combat this crisis, it is important for all stakeholders to collaborate such as the Hamilton Drug Strategy (HDS). The recommendations for this crisis are:
<div style="padding-left:7px;text-indent:-5px">•&nbsp;&nbsp; Supervised Injection Sites (SIS) injection sites should be available across Canada including Hamilton for overdose reversals, promote good injection practices, reduce harm and inform users of available rehabilitation programs.</div>
<div style="padding-left:7px;text-indent:-5px">•&nbsp;&nbsp; Decriminalization of drug use: this has been proven to reduce deaths as seen in countries like Portugal with an annual average of 3 deaths per 1 million citizens.</div>
<div style="padding-left:7px;text-indent:-5px">•&nbsp;&nbsp; Treatment: improved accessibility and quality of care for addiction treatment and rehabilitation services.</div>
<div style="padding-left:7px;text-indent:-5px">•&nbsp;&nbsp; Inclusion of the dangers of opioid use and addiction in school curriculum.</div>
</div>

<div class="t ref" style="left:820px;top:400px;width:180px;line-height:4.3px;font-size:3.3px">
<div style="text-indent:18px">Canadian Centre on Substance Use and Addiction. (2018). Canadian Substance Use Costs and Harms (2007-2014) (Report). Retrieved from <a>https://www.ccsa.ca/canadian-substance-use-costs-and-harms-2007-2014-report</a></div>
<div style="text-indent:18px">City of Hamilton. (2017, May 11). Supervised Injection Site Needs Assessment &amp; Feasibility Study. Retrieved from <a>https://www.hamilton.ca/city-initiatives/strategies-actions/supervised-injection-site-needs-assessment-feasibility-study</a></div>
<div style="text-indent:18px">Health Canada. (2019, September 20). Government of Canada. Retrieved from <a>https://www.canada.ca/en/health-canada/services/substance-use/problematic-prescription-drug-use/opioids/data-surveillance-research/harms-deaths.html</a></div>
<div style="text-indent:18px">Health Canada. (2019, September 20). National Report: Apparent Opioid-related Deaths in Canada. Retrieved from <a>https://health-infobase.canada.ca/datalab/national-surveillance-opioid-mortality.html</a></div>
<div style="text-indent:18px">HHS Integrated Decision Support IR. (2019, August). Retrieved from <a>https://www.hamilton.ca/public-health/reporting/hamilton-opioid-information-system-deaths</a></div>
<div style="text-indent:18px">Public Health Ontario. (2019, September 13). Interactive Opioid Tool. Retrieved from <a>https://www.publichealthontario.ca/en/data-and-analysis/substance-use/interactive-opioid-tool#/trends</a></div>
<div style="text-indent:18px">Smaller communities feeling impact of opioid crisis in Canada. (2019, April 9). Retrieved from <a>https://www.cbc.ca/news/health/opioids-hamilton-smaller-communities-feeling-impact-of-opioid-crisis-in-canada</a></div>
<div style="text-indent:18px">Public Health Ontario (2019, September 13). Interactive Opioid Tool. Retrieved from <a>https://www.publichealthontario.ca/en/data-and-analysis/substance-use/interactive-opioid-tool#/maps-ed</a> <a>https://www.hamilton.ca/public-health/harm-reduction/hamilton-drug-strategy</a></div>
</div>
<div style="position:absolute;left:900px;top:507px;width:110px;font-size:2.2px;color:#8aa080;text-align:right">Poster template by Mohawk College</div>
</body></html>
